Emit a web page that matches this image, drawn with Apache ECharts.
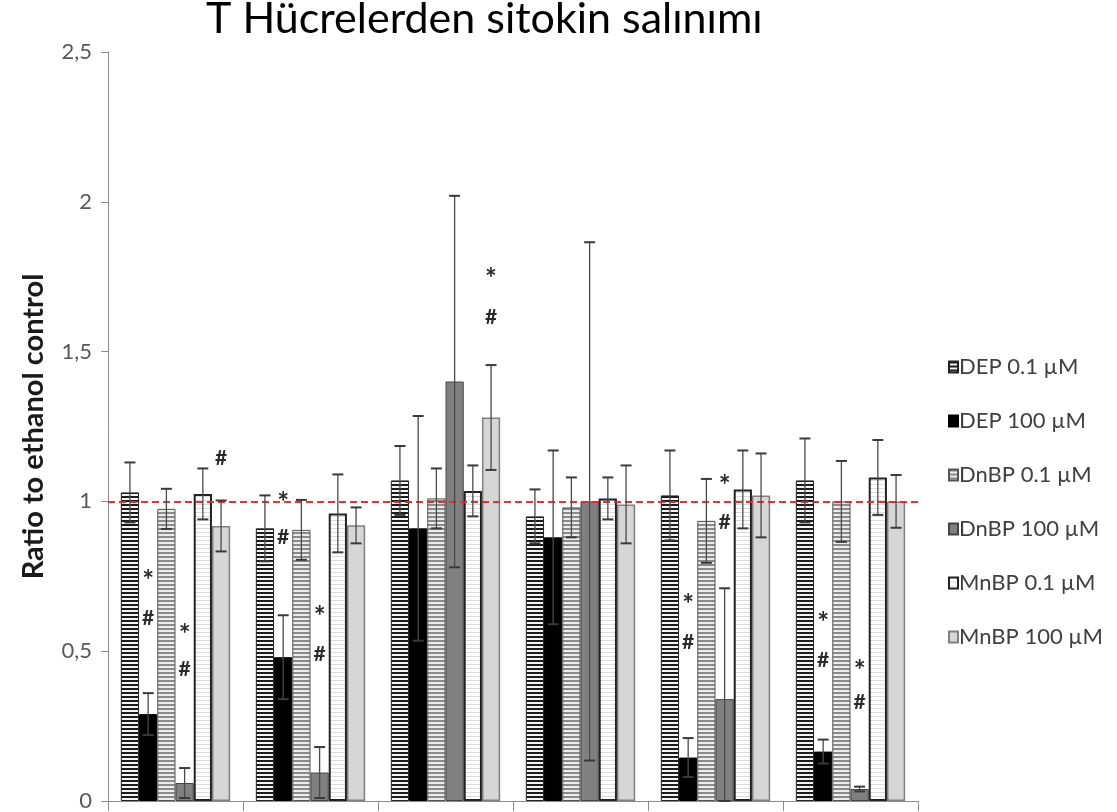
<!DOCTYPE html>
<html>
<head>
<meta charset="utf-8">
<script src="https://cdn.jsdelivr.net/npm/echarts@6/dist/echarts.min.js"></script>
<style>
html,body{margin:0;padding:0;background:#fff;}
#chart{width:1117px;height:812px;}
</style>
</head>
<body>
<div id="chart"></div>
<script>
// ---- data ----
const categories = ['G1', 'G2', 'G3', 'G4', 'G5', 'G6'];
const seriesNames = ['DEP 0.1 µM', 'DEP 100 µM', 'DnBP 0.1 µM', 'DnBP 100 µM', 'MnBP 0.1 µM', 'MnBP 100 µM'];
const dep01      = [1.03, 0.91, 1.07, 0.95, 1.02, 1.07];
const dep01Err   = [0.10, 0.11, 0.115, 0.09, 0.15, 0.14];
const dep100     = [0.29, 0.48, 0.91, 0.88, 0.145, 0.165];
const dep100Err  = [0.07, 0.14, 0.375, 0.29, 0.065, 0.04];
const dnbp01     = [0.975, 0.905, 1.01, 0.98, 0.935, 1.0];
const dnbp01Err  = [0.067, 0.10, 0.10, 0.10, 0.14, 0.135];
const dnbp100    = [0.06, 0.095, 1.40, 1.0, 0.34, 0.04];
const dnbp100Err = [0.05, 0.085, 0.62, 0.865, 0.37, 0.008];
const mnbp01     = [1.025, 0.96, 1.035, 1.01, 1.04, 1.08];
const mnbp01Err  = [0.085, 0.13, 0.085, 0.07, 0.13, 0.125];
const mnbp100    = [0.918, 0.92, 1.28, 0.99, 1.02, 1.0];
const mnbp100Err = [0.085, 0.06, 0.175, 0.13, 0.14, 0.088];
const yTickLabels = ['0', '0,5', '1', '1,5', '2', '2,5'];
const referenceLevel = 1;
// annotations: [categoryIndex, seriesIndex, value, symbol]
const annotations = [
  [0, 1, 0.76, '*'], [0, 1, 0.61, '#'], [0, 3, 0.58, '*'], [0, 3, 0.44, '#'], [0, 5, 1.145, '#'],
  [1, 1, 1.02, '*'], [1, 1, 0.88, '#'], [1, 3, 0.64, '*'], [1, 3, 0.49, '#'],
  [2, 5, 1.77, '*'], [2, 5, 1.615, '#'],
  [4, 1, 0.68, '*'], [4, 1, 0.53, '#'], [4, 3, 1.078, '*'], [4, 3, 0.93, '#'],
  [5, 1, 0.62, '*'], [5, 1, 0.47, '#'], [5, 3, 0.46, '*'], [5, 3, 0.33, '#']
];

const values = [dep01, dep100, dnbp01, dnbp100, mnbp01, mnbp100];
const errors = [dep01Err, dep100Err, dnbp01Err, dnbp100Err, mnbp01Err, mnbp100Err];

// ---- patterns ----
function stripe(dark, light, period, darkRows) {
  const c = document.createElement('canvas');
  c.width = 4; c.height = period;
  const g = c.getContext('2d');
  g.fillStyle = light; g.fillRect(0, 0, 4, period);
  g.fillStyle = dark; g.fillRect(0, 0, 4, darkRows);
  return { image: c, repeat: 'repeat' };
}
const styles = [
  { color: stripe('#1c1c1c', '#f4f4f4', 4, 2), borderColor: '#222', borderWidth: 1 },
  { color: '#000000', borderColor: '#000', borderWidth: 1 },
  { color: stripe('#8a8a8a', '#ececec', 4, 2), borderColor: '#555', borderWidth: 1 },
  { color: '#808080', borderColor: '#444', borderWidth: 1 },
  { color: stripe('#dcdcdc', '#ffffff', 4, 1), borderColor: '#222', borderWidth: 2 },
  { color: '#d6d6d6', borderColor: '#808080', borderWidth: 1.5 }
];

const GAP = 0.19;
const chart = echarts.init(document.getElementById('chart'));

const barSeries = seriesNames.map((name, i) => ({
  name: name,
  type: 'bar',
  data: values[i],
  barGap: '0%',
  barCategoryGap: (GAP * 100) + '%',
  itemStyle: styles[i],
  z: 2
}));

const errData = [];
values.forEach((arr, si) => arr.forEach((v, ci) => errData.push([ci, v, errors[si][ci], si])));

function barCenter(api, ci, si) {
  const band = api.size([1, 0])[0];
  const bw = band * (1 - GAP) / 6;
  return api.coord([ci, 0])[0] + (si - 2.5) * bw;
}

const errSeries = {
  type: 'custom',
  name: 'err',
  data: errData,
  z: 5,
  silent: true,
  renderItem: function (params, api) {
    const ci = api.value(0), v = api.value(1), e = api.value(2), si = api.value(3);
    const x = barCenter(api, ci, si);
    const yt = api.coord([ci, v + e])[1];
    const yb = api.coord([ci, Math.max(0, v - e)])[1];
    const half = 5.5;
    const st = { stroke: '#4a4a4a', lineWidth: 1.3 };
    return {
      type: 'group',
      children: [
        { type: 'line', shape: { x1: x, y1: yt, x2: x, y2: yb }, style: st },
        { type: 'line', shape: { x1: x - half, y1: yt, x2: x + half, y2: yt }, style: { stroke: '#3a3a3a', lineWidth: 2 } },
        { type: 'line', shape: { x1: x - half, y1: yb, x2: x + half, y2: yb }, style: { stroke: '#3a3a3a', lineWidth: 2 } }
      ]
    };
  },
  markLine: {
    silent: true,
    symbol: 'none',
    label: { show: false },
    lineStyle: { color: '#e8262c', type: [7, 4], width: 2, opacity: 0.95 },
    data: [{ yAxis: referenceLevel }]
  }
};

const annSeries = {
  type: 'custom',
  name: 'ann',
  data: annotations.map(a => [a[0], a[1], a[2], a[3] === '*' ? 0 : 1]),
  z: 6,
  silent: true,
  renderItem: function (params, api) {
    const ci = api.value(0), si = api.value(1), v = api.value(2), k = api.value(3);
    const x = barCenter(api, ci, si);
    const y = api.coord([ci, v])[1];
    const isStar = k === 0;
    return {
      type: 'text',
      x: x,
      y: isStar ? y + 8 : y,
      style: {
        text: isStar ? '*' : '#',
        font: isStar ? 'bold 28px Lato' : 'bold 21px Lato',
        fill: '#2a2a2a',
        align: 'center',
        verticalAlign: 'middle'
      }
    };
  }
};

chart.setOption({
  animation: false,
  backgroundColor: '#ffffff',
  title: {
    text: 'T Hücrelerden sitokin salınımı',
    left: 201,
    top: -7,
    textStyle: { fontFamily: 'Lato', fontSize: 43, fontWeight: 'normal', color: '#000' }
  },
  legend: {
    orient: 'vertical',
    left: 943,
    top: 350,
    itemWidth: 9,
    itemHeight: 11,
    itemGap: 30,
    icon: 'rect',
    data: seriesNames,
    textStyle: { fontFamily: 'Lato', fontSize: 22, lineHeight: 24, color: '#404040', padding: [0, 0, 0, -4] }
  },
  grid: { left: 108, right: 199, top: 52, bottom: 11, containLabel: false },
  xAxis: {
    type: 'category',
    data: categories,
    axisLine: { lineStyle: { color: '#8c8c8c', width: 1 } },
    axisTick: { show: true, length: 10, lineStyle: { color: '#8c8c8c' } },
    axisLabel: { show: false },
    splitLine: { show: false }
  },
  yAxis: {
    type: 'value',
    min: 0,
    max: 2.5,
    interval: 0.5,
    name: 'Ratio to ethanol control',
    nameLocation: 'middle',
    nameGap: 60,
    nameRotate: 90,
    nameTextStyle: { fontFamily: 'Lato', fontWeight: 'bold', fontSize: 29, color: '#1a1a1a' },
    axisLine: { show: true, lineStyle: { color: '#8c8c8c', width: 1 } },
    axisTick: { show: true, length: 7, lineStyle: { color: '#8c8c8c' } },
    axisLabel: {
      fontFamily: 'Lato', fontSize: 22, color: '#595959', margin: 16,
      formatter: function (v, idx) { return yTickLabels[idx]; }
    },
    splitLine: { show: false }
  },
  series: barSeries.concat([errSeries, annSeries])
});
</script>
</body>
</html>
